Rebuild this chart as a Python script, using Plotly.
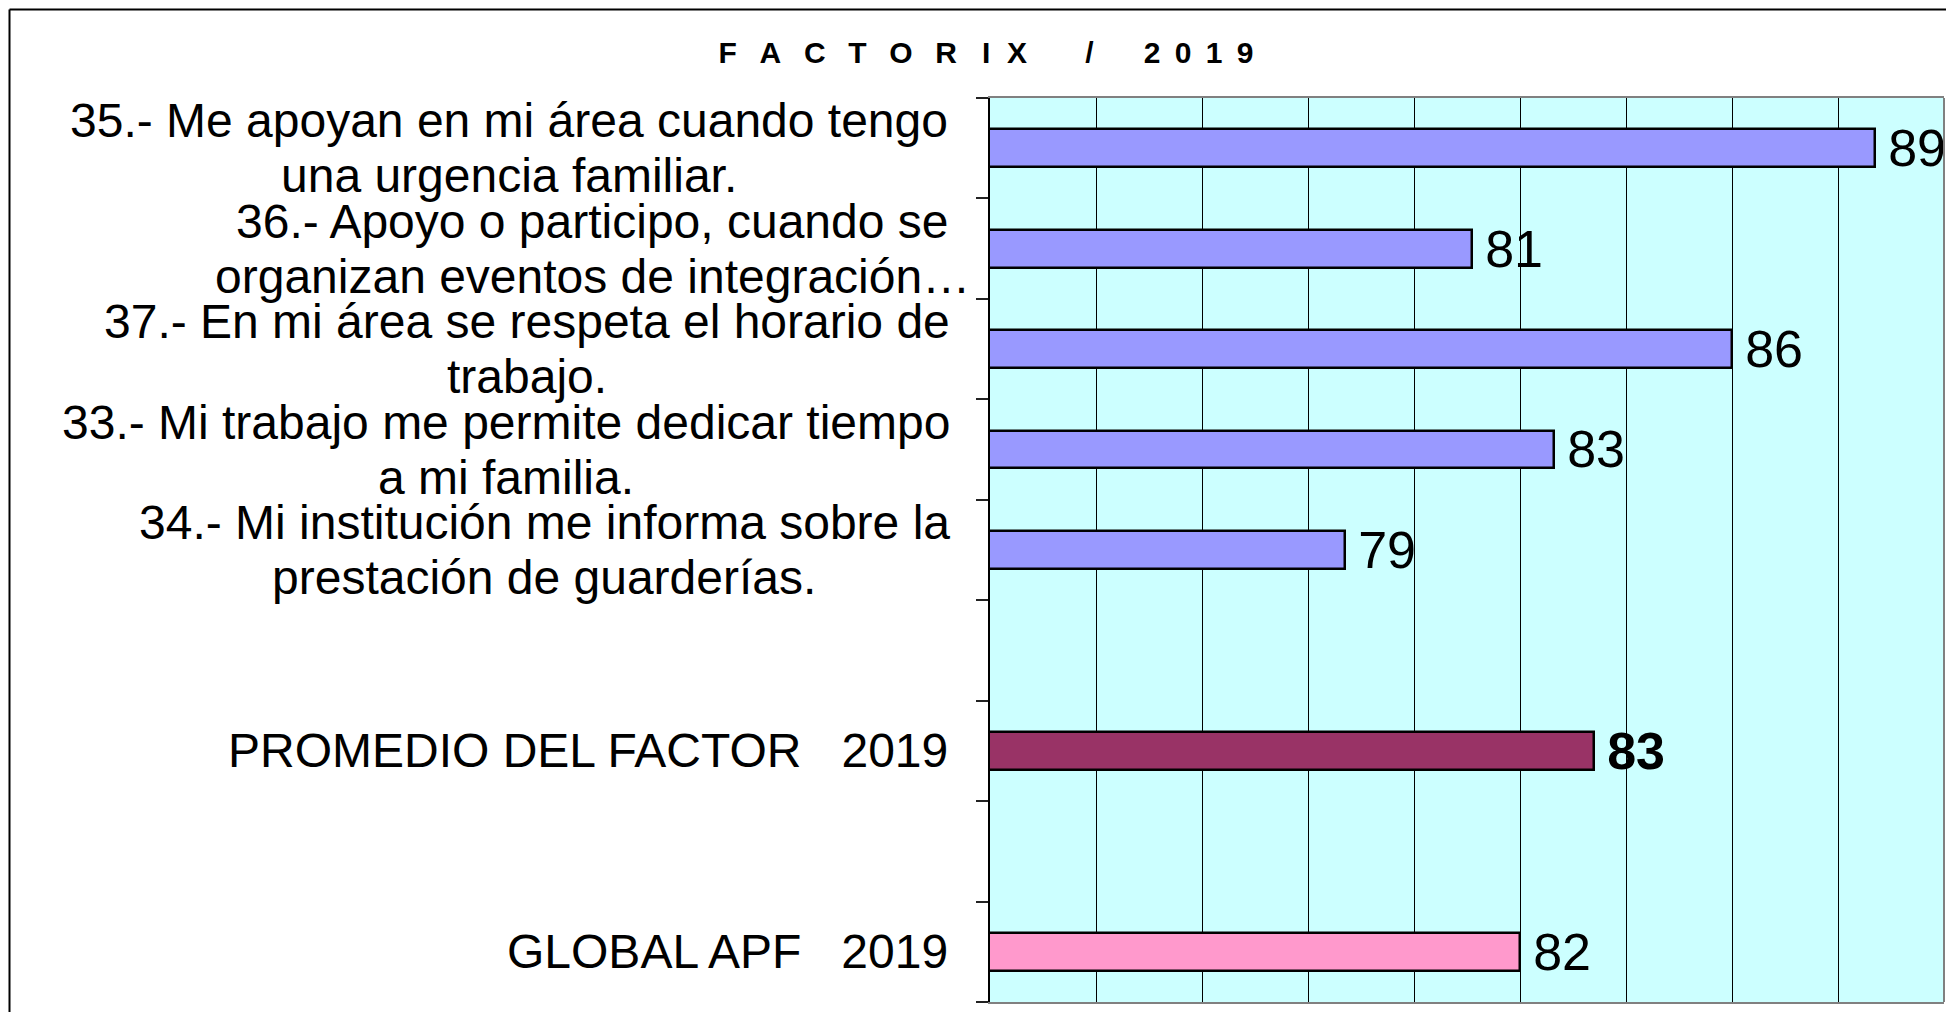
import plotly.graph_objects as go

# ---------------- data ----------------
question_labels = [
    "35.- Me apoyan en mi área cuando tengo<br>una urgencia familiar.",
    "36.- Apoyo o participo, cuando se<br>organizan eventos de integración…",
    "37.- En mi área se respeta el horario de<br>trabajo.",
    "33.- Mi trabajo me permite dedicar tiempo<br>a mi familia.",
    "34.- Mi institución me informa sobre la<br>prestación de guarderías.",
]
question_values = [88.7, 81.1, 86.0, 82.65, 78.7]

promedio_label = "PROMEDIO DEL FACTOR\u00a0\u00a0 2019"
promedio_value = [83.4]

global_label = "GLOBAL APF\u00a0\u00a0 2019"
global_value = [82.0]

blank_1 = ""
blank_2 = ""
category_order = question_labels + [blank_1, promedio_label, blank_2, global_label]

x_ticks = [72, 74, 76, 78, 80, 82, 84, 86, 88, 90]

_g = "\u00a0\u00a0\u2009"     # letter spacing of the title
_s = "\u00a0\u2009"
title_text = (_g.join("FACTOR") + "\u00a0\u00a0\u00a0" + "I\u00a0\u00a0X" + "\u00a0" * 7 + "/"
              + "\u00a0" * 6 + _s.join("2019"))

# ---------------- layout constants ----------------
OFF = 8                      # default page margin of the html body
W, H = 1954 - 2 * OFF, 1020 - 2 * OFF
PL, PR, PT, PB = 990 - OFF, 1944 - OFF, 98 - OFF, 1002 - OFF   # plot area (figure px)
FONT = "Liberation Sans, Arial, Helvetica, sans-serif"


def px_x(page_px):
    return (page_px - OFF - PL) / (PR - PL)


def px_y(page_py):
    return (PB - (page_py - OFF)) / (PB - PT)


n_cat = len(category_order)
q_pos = list(range(len(question_labels)))
prom_pos = [len(question_labels) + 1]
glob_pos = [len(question_labels) + 3]

bar_w = 0.375
line_style = dict(color="black", width=2.5)
value_fmt = "\u2009%{x:.0f}"
value_font = dict(family=FONT, size=52, color="black")

fig = go.Figure()
fig.add_trace(go.Bar(
    x=question_values, y=q_pos, orientation="h", width=bar_w,
    marker=dict(color="#9999FF", line=line_style),
    texttemplate=value_fmt, textposition="outside",
    textfont=value_font, cliponaxis=False, constraintext="none",
    showlegend=False, hoverinfo="skip",
))
fig.add_trace(go.Bar(
    x=promedio_value, y=prom_pos, orientation="h", width=bar_w,
    marker=dict(color="#993366", line=line_style),
    texttemplate=value_fmt, textposition="outside",
    textfont=dict(family=FONT, size=52, color="black", weight="bold"),
    cliponaxis=False, constraintext="none",
    showlegend=False, hoverinfo="skip",
))
fig.add_trace(go.Bar(
    x=global_value, y=glob_pos, orientation="h", width=bar_w,
    marker=dict(color="#FF99CC", line=line_style),
    texttemplate=value_fmt, textposition="outside",
    textfont=value_font, cliponaxis=False, constraintext="none",
    showlegend=False, hoverinfo="skip",
))

# ---------------- category labels ----------------
annotations = []
label_center_px = [509, 592, 527, 506, 544]   # page px
line_gap = 55
for i, lab in enumerate(question_labels):
    lines = lab.split("<br>")
    n = len(lines)
    for j, ln in enumerate(lines):
        annotations.append(dict(
            x=px_x(label_center_px[i]), xref="paper", xanchor="center",
            y=i, yref="y", yanchor="middle",
            yshift=-(j - (n - 1) / 2) * line_gap,
            text=ln, showarrow=False,
            font=dict(family=FONT, size=48, color="black"),
        ))
for lab, pos in ((promedio_label, prom_pos[0]), (global_label, glob_pos[0])):
    annotations.append(dict(
        x=px_x(950), xref="paper", xanchor="right",
        y=pos, yref="y", yanchor="middle",
        text=lab, showarrow=False,
        font=dict(family=FONT, size=48, color="black"),
    ))

shapes = [
    # right border of the plot area
    dict(type="line", xref="paper", yref="paper", x0=1, x1=1, y0=0, y1=1,
         line=dict(color="#808080", width=2), layer="above"),
    # outer frame (left and top)
    dict(type="line", xref="paper", yref="paper",
         x0=px_x(9.5), x1=px_x(9.5), y0=px_y(9.5), y1=px_y(1030),
         line=dict(color="black", width=2)),
    dict(type="line", xref="paper", yref="paper",
         x0=px_x(9.5), x1=px_x(1960), y0=px_y(9.5), y1=px_y(9.5),
         line=dict(color="black", width=2)),
]

fig.update_layout(
    width=W, height=H, autosize=False,
    margin=dict(l=PL, r=W - PR, t=PT, b=H - PB, pad=0),
    paper_bgcolor="white", plot_bgcolor="#CCFFFF",
    font=dict(family=FONT, color="black"),
    title=dict(text=title_text, x=(986 - OFF) / W, xanchor="center", xref="container",
               y=1 - (52 - OFF) / H, yanchor="middle", yref="container",
               font=dict(family=FONT, size=30, color="black", weight="bold")),
    bargap=0, showlegend=False,
    annotations=annotations, shapes=shapes,
)
fig.update_xaxes(
    range=[x_ticks[0], x_ticks[-1]], tickvals=x_ticks, showticklabels=False,
    ticks="", showgrid=True, gridcolor="black", gridwidth=1, zeroline=False,
    showline=True, mirror=True, linecolor="#808080", linewidth=2,
)
fig.update_yaxes(
    range=[n_cat - 0.5, -0.5],
    tickvals=[k - 0.5 for k in range(n_cat + 1)], showticklabels=False,
    ticks="outside", ticklen=12, tickwidth=1.5, tickcolor="#222222",
    showgrid=False, zeroline=False,
    showline=True, linecolor="black", linewidth=2,
)

fig.write_html("out.html")
